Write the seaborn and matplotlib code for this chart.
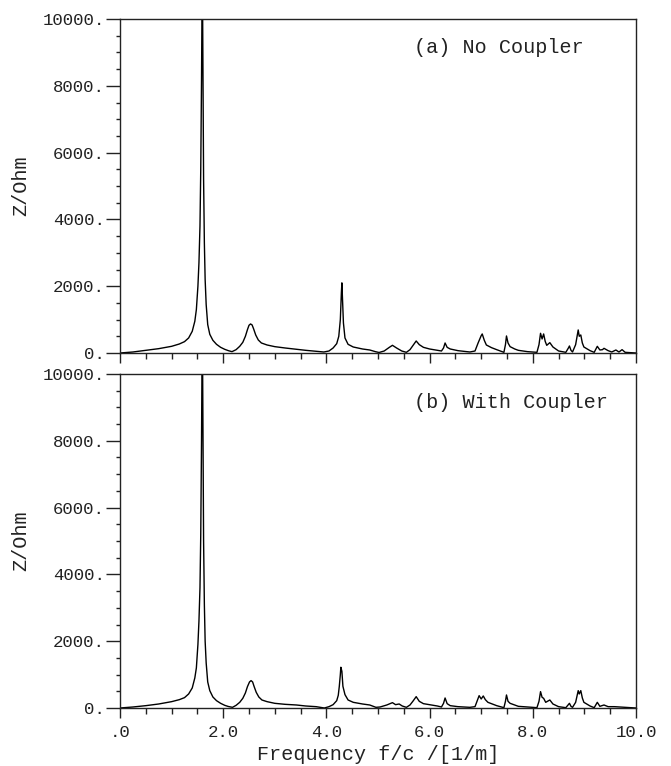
import matplotlib
matplotlib.use("Agg")
import matplotlib.pyplot as plt
import seaborn as sns
import pandas as pd
from matplotlib.ticker import MultipleLocator, FixedLocator, FixedFormatter

sns.set_style("ticks")
plt.rcParams['font.family'] = ['Liberation Mono', 'DejaVu Sans Mono']

# impedance spectrum, (a) no coupler
freq_a = [0.0, 0.25, 0.5, 0.75, 1.0, 1.15, 1.25, 1.33, 1.40, 1.45, 1.48, 1.51, 1.53, 1.55,
          1.565, 1.58, 1.59, 1.60, 1.61, 1.62, 1.635, 1.65, 1.67, 1.70, 1.74, 1.80, 1.87,
          1.95, 2.03, 2.1, 2.17, 2.25, 2.32, 2.38, 2.43, 2.47, 2.50, 2.53,
          2.56, 2.59, 2.63, 2.68, 2.74, 2.85, 3.0, 3.2, 3.42, 3.6, 3.8, 3.95, 4.05, 4.13, 4.2,
          4.24, 4.27, 4.29, 4.30, 4.31, 4.33, 4.36, 4.42, 4.52, 4.7, 4.84, 4.95, 5.02, 5.12,
          5.22, 5.28, 5.36, 5.46, 5.55, 5.62, 5.68, 5.74, 5.80, 5.88, 6.0, 6.15, 6.23, 6.27,
          6.30, 6.34, 6.40, 6.55, 6.78, 6.88, 6.94, 7.00, 7.02, 7.06, 7.10, 7.2, 7.3,
          7.44, 7.47, 7.49, 7.52, 7.56, 7.65, 7.72, 7.9, 8.08, 8.12, 8.15, 8.18, 8.21,
          8.24, 8.27, 8.33, 8.39, 8.50, 8.64, 8.69, 8.71, 8.74, 8.77, 8.83, 8.88, 8.90,
          8.93, 8.96, 8.99, 9.11, 9.19, 9.25, 9.30, 9.35, 9.38, 9.46, 9.53, 9.61, 9.67,
          9.73, 9.79, 9.9, 10.0]
z_a = [0, 30, 80, 130, 200, 270, 340, 450, 650, 950, 1300, 2000, 2700, 3800,
       5500, 8200, 10500, 10500, 7800, 5200, 3300, 2200, 1450, 850, 560, 380, 260,
       170, 110, 70, 40, 100, 200, 320, 500, 700, 830, 870,
       840, 720, 540, 390, 300, 240, 190, 150, 110, 80, 50, 30, 60, 150, 280,
       500, 1000, 1800, 2100, 1700, 900, 450, 260, 180, 120, 90, 40, 15, 60,
       170, 230, 150, 60, 20, 100, 230, 360, 250, 170, 120, 80, 60, 150,
       300, 170, 120, 70, 30, 60, 300, 520, 570, 380, 240, 160, 100,
       20, 250, 510, 300, 190, 120, 80, 40, 20, 250, 590, 420, 570,
       350, 230, 310, 180, 60, 20, 150, 210, 80, 30, 250, 690, 500,
       540, 300, 180, 70, 20, 200, 90, 100, 140, 70, 30, 90, 30,
       100, 20, 10, 0]

# (b) with coupler
freq_b = [0.0, 0.25, 0.5, 0.75, 1.0, 1.15, 1.25, 1.33, 1.40, 1.45, 1.48, 1.51, 1.53, 1.55,
          1.565, 1.58, 1.59, 1.60, 1.61, 1.62, 1.635, 1.65, 1.67, 1.70, 1.74, 1.80, 1.87,
          1.95, 2.03, 2.1, 2.18, 2.25, 2.32, 2.38, 2.43, 2.47, 2.51, 2.54,
          2.57, 2.60, 2.64, 2.69, 2.75, 2.85, 3.0, 3.2, 3.42, 3.6, 3.8, 3.96, 4.05, 4.13, 4.2,
          4.23, 4.25, 4.27, 4.28, 4.30, 4.32, 4.36, 4.42, 4.52, 4.7, 4.84, 4.96, 5.04, 5.17,
          5.28, 5.34, 5.41, 5.47, 5.55, 5.62, 5.68, 5.74, 5.80, 5.88, 6.0, 6.15, 6.23, 6.27,
          6.30, 6.34, 6.40, 6.55, 6.78, 6.88, 6.93, 6.96, 7.00, 7.04, 7.08, 7.13, 7.3,
          7.44, 7.47, 7.49, 7.52, 7.56, 7.65, 7.72, 7.9, 8.08, 8.12, 8.15, 8.18, 8.21,
          8.25, 8.33, 8.39, 8.50, 8.64, 8.69, 8.71, 8.74, 8.77, 8.83, 8.88, 8.90,
          8.93, 8.96, 8.99, 9.11, 9.19, 9.25, 9.30, 9.38, 9.46, 9.58, 9.68,
          9.80, 9.9, 10.0]
z_b = [0, 30, 70, 120, 190, 250, 310, 420, 600, 900, 1200, 1900, 2600, 3600,
       5200, 8000, 10500, 10500, 7500, 5000, 3100, 2000, 1350, 780, 520, 330, 220,
       140, 80, 45, 20, 80, 170, 290, 450, 640, 780, 820,
       780, 640, 470, 330, 240, 190, 140, 110, 90, 60, 40, 0, 40, 100, 220,
       380, 650, 1000, 1220, 1100, 650, 400, 240, 170, 120, 90, 20, 30, 90,
       160, 100, 120, 60, 20, 90, 210, 340, 200, 130, 100, 60, 30, 140,
       300, 130, 70, 40, 20, 40, 250, 370, 270, 360, 250, 170, 70,
       10, 200, 390, 200, 140, 90, 50, 30, 10, 200, 490, 320, 290,
       170, 240, 120, 40, 10, 100, 140, 50, 20, 170, 520, 420,
       520, 300, 170, 60, 10, 170, 50, 90, 40, 40, 30,
       20, 10, 0]

panels = [
    (freq_a, z_a, "(a) No Coupler"),
    (freq_b, z_b, "(b) With Coupler"),
]

y_major = [0, 2000, 4000, 6000, 8000, 10000]
y_labels = ["0.", "2000.", "4000.", "6000.", "8000.", "10000."]
x_major = [0, 2, 4, 6, 8, 10]
x_labels = [".0", "2.0", "4.0", "6.0", "8.0", "10.0"]

ink = "#222222"
fig = plt.figure(figsize=(6.71, 7.66), dpi=100)
W, H = 671, 766
boxes = [(120, 19, 636, 353), (120, 374, 636, 708)]

for i, ((f, z, label), (x0, y0, x1, y1)) in enumerate(zip(panels, boxes)):
    ax = fig.add_axes([x0 / W, 1 - y1 / H, (x1 - x0) / W, (y1 - y0) / H])
    df = pd.DataFrame({"f": f, "Z": z})
    sns.lineplot(data=df, x="f", y="Z", ax=ax, color="black", linewidth=1.0,
                 estimator=None, sort=False)
    ax.set_xlim(0, 10)
    ax.set_ylim(0, 10000)
    for s in ax.spines.values():
        s.set_color(ink)
        s.set_linewidth(1.0)

    ax.yaxis.set_major_locator(FixedLocator(y_major))
    ax.yaxis.set_major_formatter(FixedFormatter(y_labels))
    ax.yaxis.set_minor_locator(MultipleLocator(500))
    ax.xaxis.set_major_locator(FixedLocator(x_major))
    ax.xaxis.set_minor_locator(MultipleLocator(0.5))
    ax.tick_params(axis="y", which="major", direction="out", length=10, width=1,
                   pad=1, colors=ink, labelsize=12.5)
    ax.tick_params(axis="y", which="minor", direction="out", length=3, width=1, colors=ink)
    ax.tick_params(axis="x", which="major", direction="out", length=7, width=1,
                   pad=5, colors=ink, labelsize=12.5)
    ax.tick_params(axis="x", which="minor", direction="out", length=4, width=1, colors=ink)

    if i == 1:
        ax.xaxis.set_major_formatter(FixedFormatter(x_labels))
        ax.set_xlabel("Frequency f/c /[1/m]", fontsize=14.5, color=ink, labelpad=4)
    else:
        ax.set_xticklabels([])
        ax.set_xlabel("")
    ax.set_ylabel("Z/Ohm", fontsize=14.5, color=ink)
    ax.yaxis.set_label_coords(-0.174, 0.5)
    ax.text(0.57, 0.915, label, transform=ax.transAxes, fontsize=14.5,
            color=ink, ha="left", va="center")

fig.savefig("out.png", dpi=100)
